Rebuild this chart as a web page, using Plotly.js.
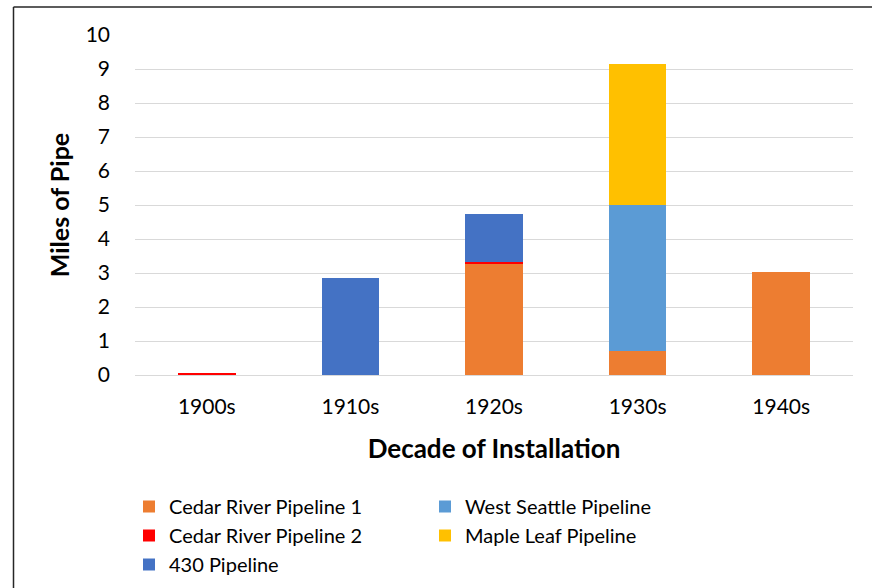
<!DOCTYPE html>
<html>
<head>
<meta charset="utf-8">
<script src="https://cdn.plot.ly/plotly-3.0.1.min.js"></script>
<style>html,body{margin:0;padding:0;background:#fff;}#chart{width:872px;height:588px;}</style>
</head>
<body>
<div id="chart"></div>
<script>
const decades = ["1900s", "1910s", "1920s", "1930s", "1940s"];
const cedarRiver1 = [0, 0, 3.28, 0.70, 3.02];
const cedarRiver2 = [0.06, 0, 0.035, 0, 0];
const pipeline430 = [0, 2.84, 1.435, 0, 0];
const westSeattle = [0, 0, 0, 4.31, 0];
const mapleLeaf = [0, 0, 0, 4.14, 0];

const seriesNames = ["Cedar River Pipeline 1", "Cedar River Pipeline 2", "430 Pipeline", "West Seattle Pipeline", "Maple Leaf Pipeline"];
const seriesValues = [cedarRiver1, cedarRiver2, pipeline430, westSeattle, mapleLeaf];
const seriesColors = ["#ED7D31", "#FF0000", "#4472C4", "#5B9BD5", "#FFC000"];
const legendRanks = [1, 3, 5, 2, 4];

const font = "Lato, 'Open Sans', 'DejaVu Sans', sans-serif";

const traces = seriesNames.map((name, i) => ({
  type: "bar",
  name: name,
  x: decades,
  y: seriesValues[i],
  marker: { color: seriesColors[i] },
  legendrank: legendRanks[i],
  hoverinfo: "x+y+name"
}));

const L = 135, R = 19, T = 35, B = 213;
const W = 872 - L - R, H = 588 - T - B;
const px = v => (v - L) / W;
const py = v => (588 - B - v) / H;

const layout = {
  width: 872, height: 588,
  margin: { l: L, r: R, t: T, b: B, autoexpand: false },
  paper_bgcolor: "#fff", plot_bgcolor: "#fff",
  barmode: "stack",
  bargap: 0.6,
  font: { family: font, color: "#000", size: 20 },
  xaxis: {
    type: "category",
    automargin: false,
    showgrid: false,
    showline: true, linecolor: "#D9D9D9", linewidth: 1,
    ticks: "", tickfont: { size: 21, color: "#000" },
    ticklabelstandoff: 13,
    title: { text: "<b>Decade of Installation</b>", font: { size: 26, color: "#000" }, standoff: 22 }
  },
  yaxis: {
    range: [0, 10], dtick: 1, tick0: 0,
    automargin: false,
    showgrid: true, gridcolor: "#D9D9D9", gridwidth: 1,
    zeroline: false, showline: false,
    ticks: "", tickfont: { size: 21, color: "#000" },
    ticklabelstandoff: 24,
    title: { text: "<b>Miles of Pipe</b>", font: { size: 25, color: "#000" }, standoff: 8 }
  },
  showlegend: true,
  legend: {
    orientation: "h",
    traceorder: "normal",
    x: px(129), xanchor: "left",
    y: py(487), yanchor: "top",
    entrywidth: 251, entrywidthmode: "pixels",
    font: { size: 20, color: "#000" },
    itemwidth: 30,
    tracegroupgap: 0
  },
  shapes: [
    { type: "line", xref: "paper", yref: "paper", x0: px(13.5), x1: px(13.5), y0: py(600), y1: py(7), line: { color: "#262626", width: 1.5 } },
    { type: "line", xref: "paper", yref: "paper", x0: px(13.5), x1: px(880), y0: py(7), y1: py(7), line: { color: "#262626", width: 1.5 } }
  ]
};

Plotly.newPlot("chart", traces, layout, { displayModeBar: false, responsive: false });
</script>
</body>
</html>
